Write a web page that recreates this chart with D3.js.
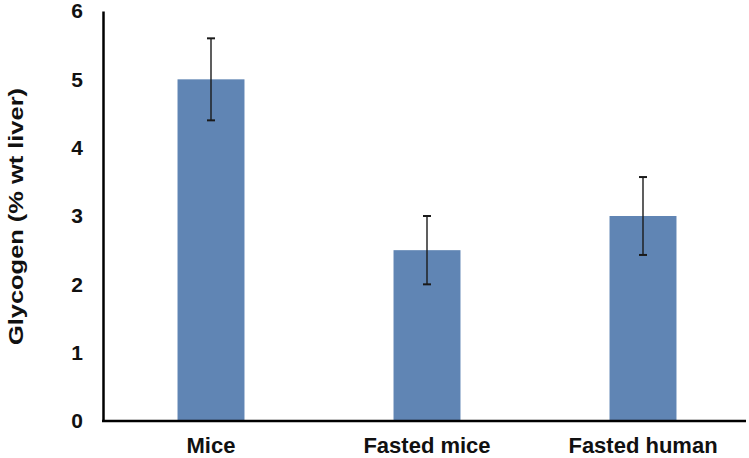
<!DOCTYPE html>
<html><head><meta charset="utf-8">
<script src="https://cdn.jsdelivr.net/npm/d3@7"></script>
<style>body{margin:0;background:#fff;} text{font-family:"Liberation Sans",Arial,sans-serif;font-weight:bold;}</style>
</head><body><svg id="c" width="749" height="458"></svg>
<script>
const categories = ["Mice", "Fasted mice", "Fasted human"];
const values = [5.0, 2.5, 3.0];
const errors = [0.6, 0.5, 0.57];
const yTicks = [0, 1, 2, 3, 4, 5, 6];

const svg = d3.select("#c");
const m = {left: 103, top: 11, bottom: 421, right: 751};
const x = d3.scaleBand().domain(categories).range([m.left, m.right]).paddingInner(0.69).paddingOuter(0.345);
const y = d3.scaleLinear().domain([0, 6]).range([m.bottom, m.top]);

svg.selectAll("rect.bar").data(values).join("rect").attr("class","bar")
  .attr("x", (d,i)=>x(categories[i])).attr("width", x.bandwidth())
  .attr("y", d=>y(d)).attr("height", d=>y(0)-y(d)).attr("fill", "#6085b4");

const eb = svg.append("g").attr("stroke", "#1a1a1a").attr("stroke-width", 1.4);
values.forEach((v,i)=>{
  const cx = x(categories[i]) + x.bandwidth()/2;
  eb.append("line").attr("x1",cx).attr("x2",cx).attr("y1",y(v+errors[i])).attr("y2",y(v-errors[i]));
  [v+errors[i], v-errors[i]].forEach(e=>{
    eb.append("line").attr("x1",cx-4).attr("x2",cx+4).attr("y1",y(e)).attr("y2",y(e)).attr("stroke-width",2);
  });
});

// axes
const ya = d3.axisLeft(y).tickValues(yTicks).tickSize(0).tickPadding(20).tickFormat(d3.format("d"));
const gy = svg.append("g").attr("transform",`translate(${m.left},0)`).call(ya);
gy.select(".domain").attr("stroke","#000").attr("stroke-width",2.5);
gy.selectAll("text").attr("font-size",21).attr("fill","#111");

const xa = d3.axisBottom(x).tickSize(0).tickPadding(16);
const gx = svg.append("g").attr("transform",`translate(0,${m.bottom})`).call(xa);
gx.select(".domain").attr("stroke","#000").attr("stroke-width",2.5).attr("d",`M${m.left-1},0H746`);
gx.selectAll("text").attr("font-size",22).attr("fill","#111");

svg.append("text").attr("transform",`translate(23,216.5) rotate(-90)`)
  .attr("text-anchor","middle").attr("font-size",21).attr("fill","#111")
  .attr("textLength",257).attr("lengthAdjust","spacingAndGlyphs")
  .text("Glycogen (% wt liver)");
</script></body></html>
